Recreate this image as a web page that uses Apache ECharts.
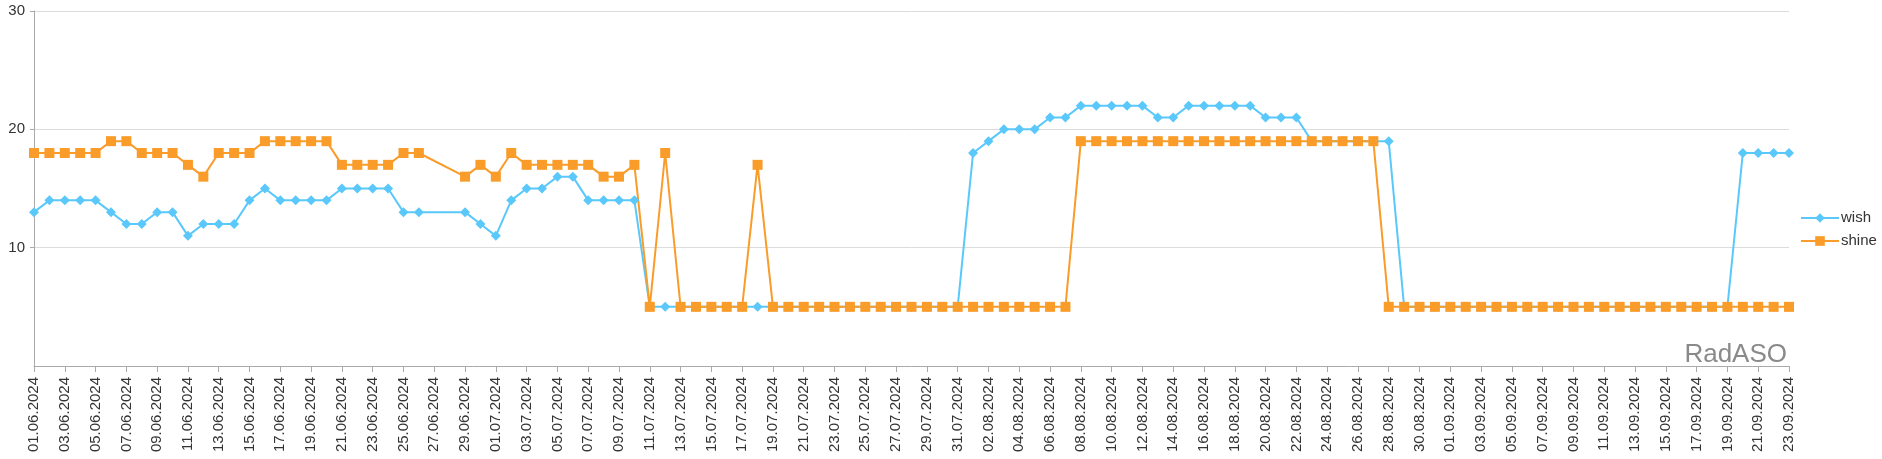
<!DOCTYPE html>
<html lang="en">
<head>
<meta charset="utf-8">
<script src="https://cdn.jsdelivr.net/npm/echarts@6/dist/echarts.min.js"></script>
<style type="text/css">
	html, body { margin: 0; padding: 0; background: #fff; }
	/* chart box */
	#line { width: 1882px; height: 459px; }
</style>
</head>
<body>
<div id="line"></div>
<script type="text/javascript">
	// days 01.06.2024 .. 23.09.2024
	var startDay = new Date(2024, 5, 1);
	var dayCount = 115;
	var dates = [];
	for (var i = 0; i < dayCount; i++) {
		var d = new Date(startDay.getTime());
		d.setDate(d.getDate() + i);
		var dd = ('0' + d.getDate()).slice(-2);
		var mm = ('0' + (d.getMonth() + 1)).slice(-2);
		dates.push(dd + '.' + mm + '.' + d.getFullYear());
	}

	var seriesNames = ['wish', 'shine'];

	var wish = [
		13, 14, 14, 14, 14, 13, 12, 12, 13, 13,
		11, 12, 12, 12, 14, 15, 14, 14, 14, 14,
		15, 15, 15, 15, 13, 13, null, null, 13, 12,
		11, 14, 15, 15, 16, 16, 14, 14, 14, 14,
		5, 5, 5, 5, 5, 5, 5, 5, 5, 5,
		5, 5, 5, 5, 5, 5, 5, 5, 5, 5,
		5, 18, 19, 20, 20, 20, 21, 21, 22, 22,
		22, 22, 22, 21, 21, 22, 22, 22, 22, 22,
		21, 21, 21, 19, 19, 19, 19, 19, 19, 5,
		5, 5, 5, 5, 5, 5, 5, 5, 5, 5,
		5, 5, 5, 5, 5, 5, 5, 5, 5, 5,
		5, 18, 18, 18, 18
	];

	var shine = [
		18, 18, 18, 18, 18, 19, 19, 18, 18, 18,
		17, 16, 18, 18, 18, 19, 19, 19, 19, 19,
		17, 17, 17, 17, 18, 18, null, null, 16, 17,
		16, 18, 17, 17, 17, 17, 17, 16, 16, 17,
		5, 18, 5, 5, 5, 5, 5, 17, 5, 5,
		5, 5, 5, 5, 5, 5, 5, 5, 5, 5,
		5, 5, 5, 5, 5, 5, 5, 5, 19, 19,
		19, 19, 19, 19, 19, 19, 19, 19, 19, 19,
		19, 19, 19, 19, 19, 19, 19, 19, 5, 5,
		5, 5, 5, 5, 5, 5, 5, 5, 5, 5,
		5, 5, 5, 5, 5, 5, 5, 5, 5, 5,
		5, 5, 5, 5, 5
	];

	var yTicks = [0, 10, 20, 30];

	var font = '"Liberation Sans", Arial, sans-serif';
	var line = echarts.init(document.getElementById('line'));

	line.setOption({
		animation: false,
		color: ['#5ac8fa', '#f99c2a'],
		textStyle: { fontFamily: font },
		title: {
			text: 'RadASO',
			right: 90,
			top: 337,
			textStyle: {
				fontSize: 26,
				fontWeight: 'normal',
				color: '#8a8a8a',
				fontFamily: font
			}
		},
		legend: {
			data: seriesNames,
			orient: 'vertical',
			left: 1795,
			top: 'middle',
			itemWidth: 38,
			itemHeight: 12,
			itemGap: 8,
			textStyle: { fontSize: 15, color: '#333', padding: [0, 0, 0, -3] }
		},
		grid: {
			left: 34,
			right: 93,
			top: 11,
			bottom: 93
		},
		xAxis: {
			type: 'category',
			boundaryGap: false,
			data: dates,
			axisLine: { lineStyle: { color: '#aaa', width: 1 } },
			axisTick: { interval: 1, length: 6, lineStyle: { color: '#aaa' } },
			axisLabel: {
				interval: 1,
				rotate: 90,
				margin: 11,
				fontSize: 15,
				color: '#333'
			}
		},
		yAxis: {
			type: 'value',
			min: yTicks[0],
			max: yTicks[yTicks.length - 1],
			interval: 10,
			axisLine: { show: true, lineStyle: { color: '#aaa' } },
			axisTick: { show: true, length: 4, lineStyle: { color: '#aaa' } },
			axisLabel: {
				showMinLabel: false,
				margin: 9,
				fontSize: 15,
				color: '#333'
			},
			splitLine: { lineStyle: { color: '#dcdcdc' } }
		},
		series: [{
			name: seriesNames[0],
			type: 'line',
			data: wish,
			connectNulls: true,
			symbol: 'diamond',
			symbolSize: 10,
			showAllSymbol: true,
			lineStyle: { width: 2 }
		}, {
			name: seriesNames[1],
			type: 'line',
			data: shine,
			connectNulls: true,
			symbol: 'rect',
			symbolSize: 10,
			showAllSymbol: true,
			lineStyle: { width: 2 }
		}]
	});
</script>
</body>
</html>
